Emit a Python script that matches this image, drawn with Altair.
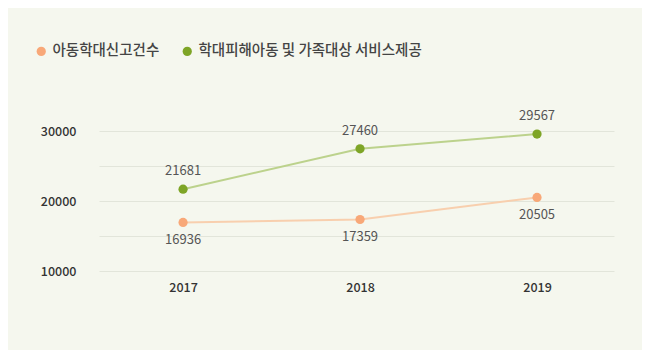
import altair as alt
import pandas as pd

years = [2017, 2018, 2019]
series_names = ["아동학대신고건수", "학대피해아동 및 가족대상 서비스제공"]
reports = [16936, 17359, 20505]
services = [21681, 27460, 29567]
y_ticks = [10000, 20000, 30000]
y_grid = [10000, 15000, 20000, 25000, 30000]

rows = []
for y, v in zip(years, reports):
    rows.append({"year": y, "series": series_names[0], "value": v, "dy": 16})
for y, v in zip(years, services):
    rows.append({"year": y, "series": series_names[1], "value": v, "dy": -16})
df = pd.DataFrame(rows)

FONT = "Noto Sans CJK KR"
BG = "#f5f7ee"
point_colors = ["#f8a878", "#7ea526"]
line_colors = ["#f8cfae", "#bcd28c"]

x_enc = alt.X("year:Q",
              scale=alt.Scale(domain=[2016.525, 2019.435], nice=False, zero=False),
              axis=alt.Axis(values=years, format="d", title=None, grid=False,
                            domain=False, ticks=False, labelPadding=10,
                            labelFontSize=12.5, labelFontWeight=500,
                            labelColor="#333333", labelFont=FONT))
y_enc = alt.Y("value:Q",
              scale=alt.Scale(domain=[10000, 30000], nice=False, zero=False),
              axis=alt.Axis(values=y_grid, title=None, domain=False, ticks=False,
                            gridColor="#e2e5da", gridWidth=1,
                            labelExpr="datum.value % 10000 == 0 ? datum.value : ''",
                            labelPadding=23, labelFontSize=12.5, labelFontWeight=500,
                            labelColor="#333333", labelFont=FONT))

base = alt.Chart(df)

lines = base.mark_line(strokeWidth=2).encode(
    x=x_enc, y=y_enc,
    color=alt.Color("series:N", scale=alt.Scale(domain=series_names, range=line_colors), legend=None),
)

points = base.mark_circle(size=85, opacity=1).encode(
    x=x_enc, y=y_enc,
    color=alt.Color("series:N",
                    scale=alt.Scale(domain=series_names, range=point_colors),
                    legend=alt.Legend(title=None, orient="none", direction="horizontal",
                                      legendX=-65, legendY=-87,
                                      symbolType="circle", symbolSize=85,
                                      labelFont=FONT, labelFontSize=14.5,
                                      labelColor="#444444", labelFontWeight=500,
                                      labelOffset=4, columnPadding=20, labelLimit=0)),
)

labels_top = base.transform_filter(alt.datum.dy < 0).mark_text(
    dy=-18, fontSize=13, color="#555555", font=FONT).encode(
    x=x_enc, y=y_enc, text=alt.Text("value:Q", format="d"))
labels_bot = base.transform_filter(alt.datum.dy > 0).mark_text(
    dy=18, fontSize=13, color="#555555", font=FONT).encode(
    x=x_enc, y=y_enc, text=alt.Text("value:Q", format="d"))

chart = alt.layer(lines, points, labels_top, labels_bot).resolve_scale(
    color="independent"
).properties(
    width=515, height=140,
    autosize=alt.AutoSizeParams(type="none"),
    padding={"left": 91, "top": 123, "right": 28, "bottom": 79},
    background=BG,
).configure_view(stroke=None)

chart.save("out.html", embed_options={"renderer": "svg", "actions": False})
